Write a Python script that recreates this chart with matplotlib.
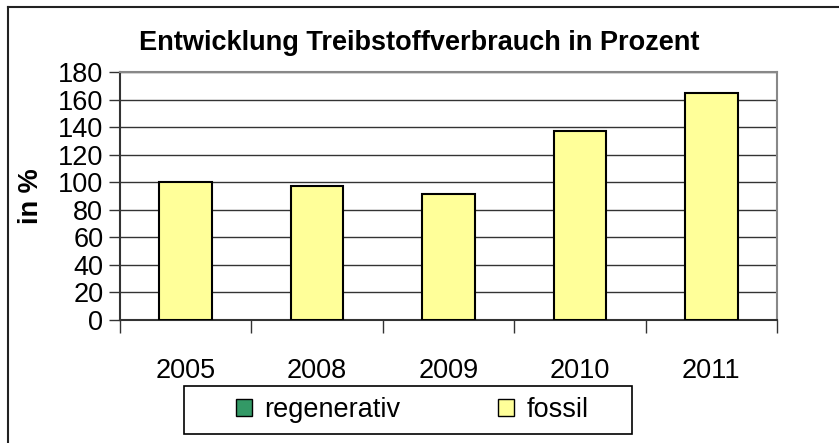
import matplotlib
matplotlib.use("Agg")
import matplotlib.pyplot as plt
from matplotlib.patches import Patch, Rectangle
import numpy as np

plt.rcParams['font.family'] = ['Liberation Sans', 'DejaVu Sans']

years = ["2005", "2008", "2009", "2010", "2011"]
regenerativ = [0, 0, 0, 0, 0]
fossil = [100, 97.5, 91.5, 137, 164.5]
yticks = [0, 20, 40, 60, 80, 100, 120, 140, 160, 180]

W, H = 839, 443
FS = 19.5
fig = plt.figure(figsize=(W / 100, H / 100), dpi=100)
ax = fig.add_axes([120 / W, 1 - 320 / H, (777 - 120) / W, (320 - 72) / H])

x = np.arange(len(years))
ax.bar(x, regenerativ, width=0.4, color="#339966", edgecolor="black", linewidth=1.5, zorder=3)
ax.bar(x, fossil, bottom=regenerativ, width=0.4, color="#FFFF99", edgecolor="black", linewidth=1.5, zorder=3)

ax.set_xlim(-0.5, len(years) - 0.5)
ax.set_ylim(0, 180)
ax.set_yticks(yticks)
ax.set_yticklabels([str(v) for v in yticks], fontsize=FS)
ax.yaxis.grid(True, color="#333333", linewidth=1, zorder=0)
ax.set_axisbelow(True)

ax.set_xticks(x)
ax.set_xticklabels(years, fontsize=FS)
ax.tick_params(axis='x', length=0, pad=27)
ax.set_xticks(np.arange(-0.5, len(years)), minor=True)
ax.tick_params(axis='x', which='minor', length=9, width=1, color="#333333")
ax.tick_params(axis='y', length=8, width=1, color="#333333", pad=4)

for s in ["top", "right"]:
    ax.spines[s].set_color("#888888")
    ax.spines[s].set_linewidth(1.5)
for s in ["left", "bottom"]:
    ax.spines[s].set_color("#333333")
    ax.spines[s].set_linewidth(1.5)

ax.set_ylabel("in %", fontsize=FS, fontweight="bold", labelpad=10)

fig.text(419 / W, 1 - 43 / H, "Entwicklung Treibstoffverbrauch in Prozent",
         ha="center", va="center", fontsize=FS, fontweight="bold")

# outer chart border (top & left visible)
fig.add_artist(plt.Line2D([8 / W, 1], [1 - 7 / H, 1 - 7 / H], color="#222222", linewidth=1.5))
fig.add_artist(plt.Line2D([8 / W, 8 / W], [1 - 7 / H, 0], color="#222222", linewidth=1.5))

# legend frame
fig.add_artist(Rectangle((184 / W, 1 - 434 / H), (632 - 184) / W, (434 - 386) / H,
                         transform=fig.transFigure, facecolor="white", edgecolor="black",
                         linewidth=1.2, zorder=1))

handles = [Patch(facecolor="#339966", edgecolor="black", label="regenerativ"),
           Patch(facecolor="#FFFF99", edgecolor="black", label="fossil")]
leg = fig.legend(handles=handles, loc="center", bbox_to_anchor=(412 / W, 1 - 410 / H),
                 ncol=2, fontsize=FS, frameon=False,
                 handlelength=0.6, handleheight=0.6, handletextpad=0.45, columnspacing=3.6,
                 borderpad=0.2)
leg.set_zorder(2)

fig.savefig("out.png", dpi=100)
